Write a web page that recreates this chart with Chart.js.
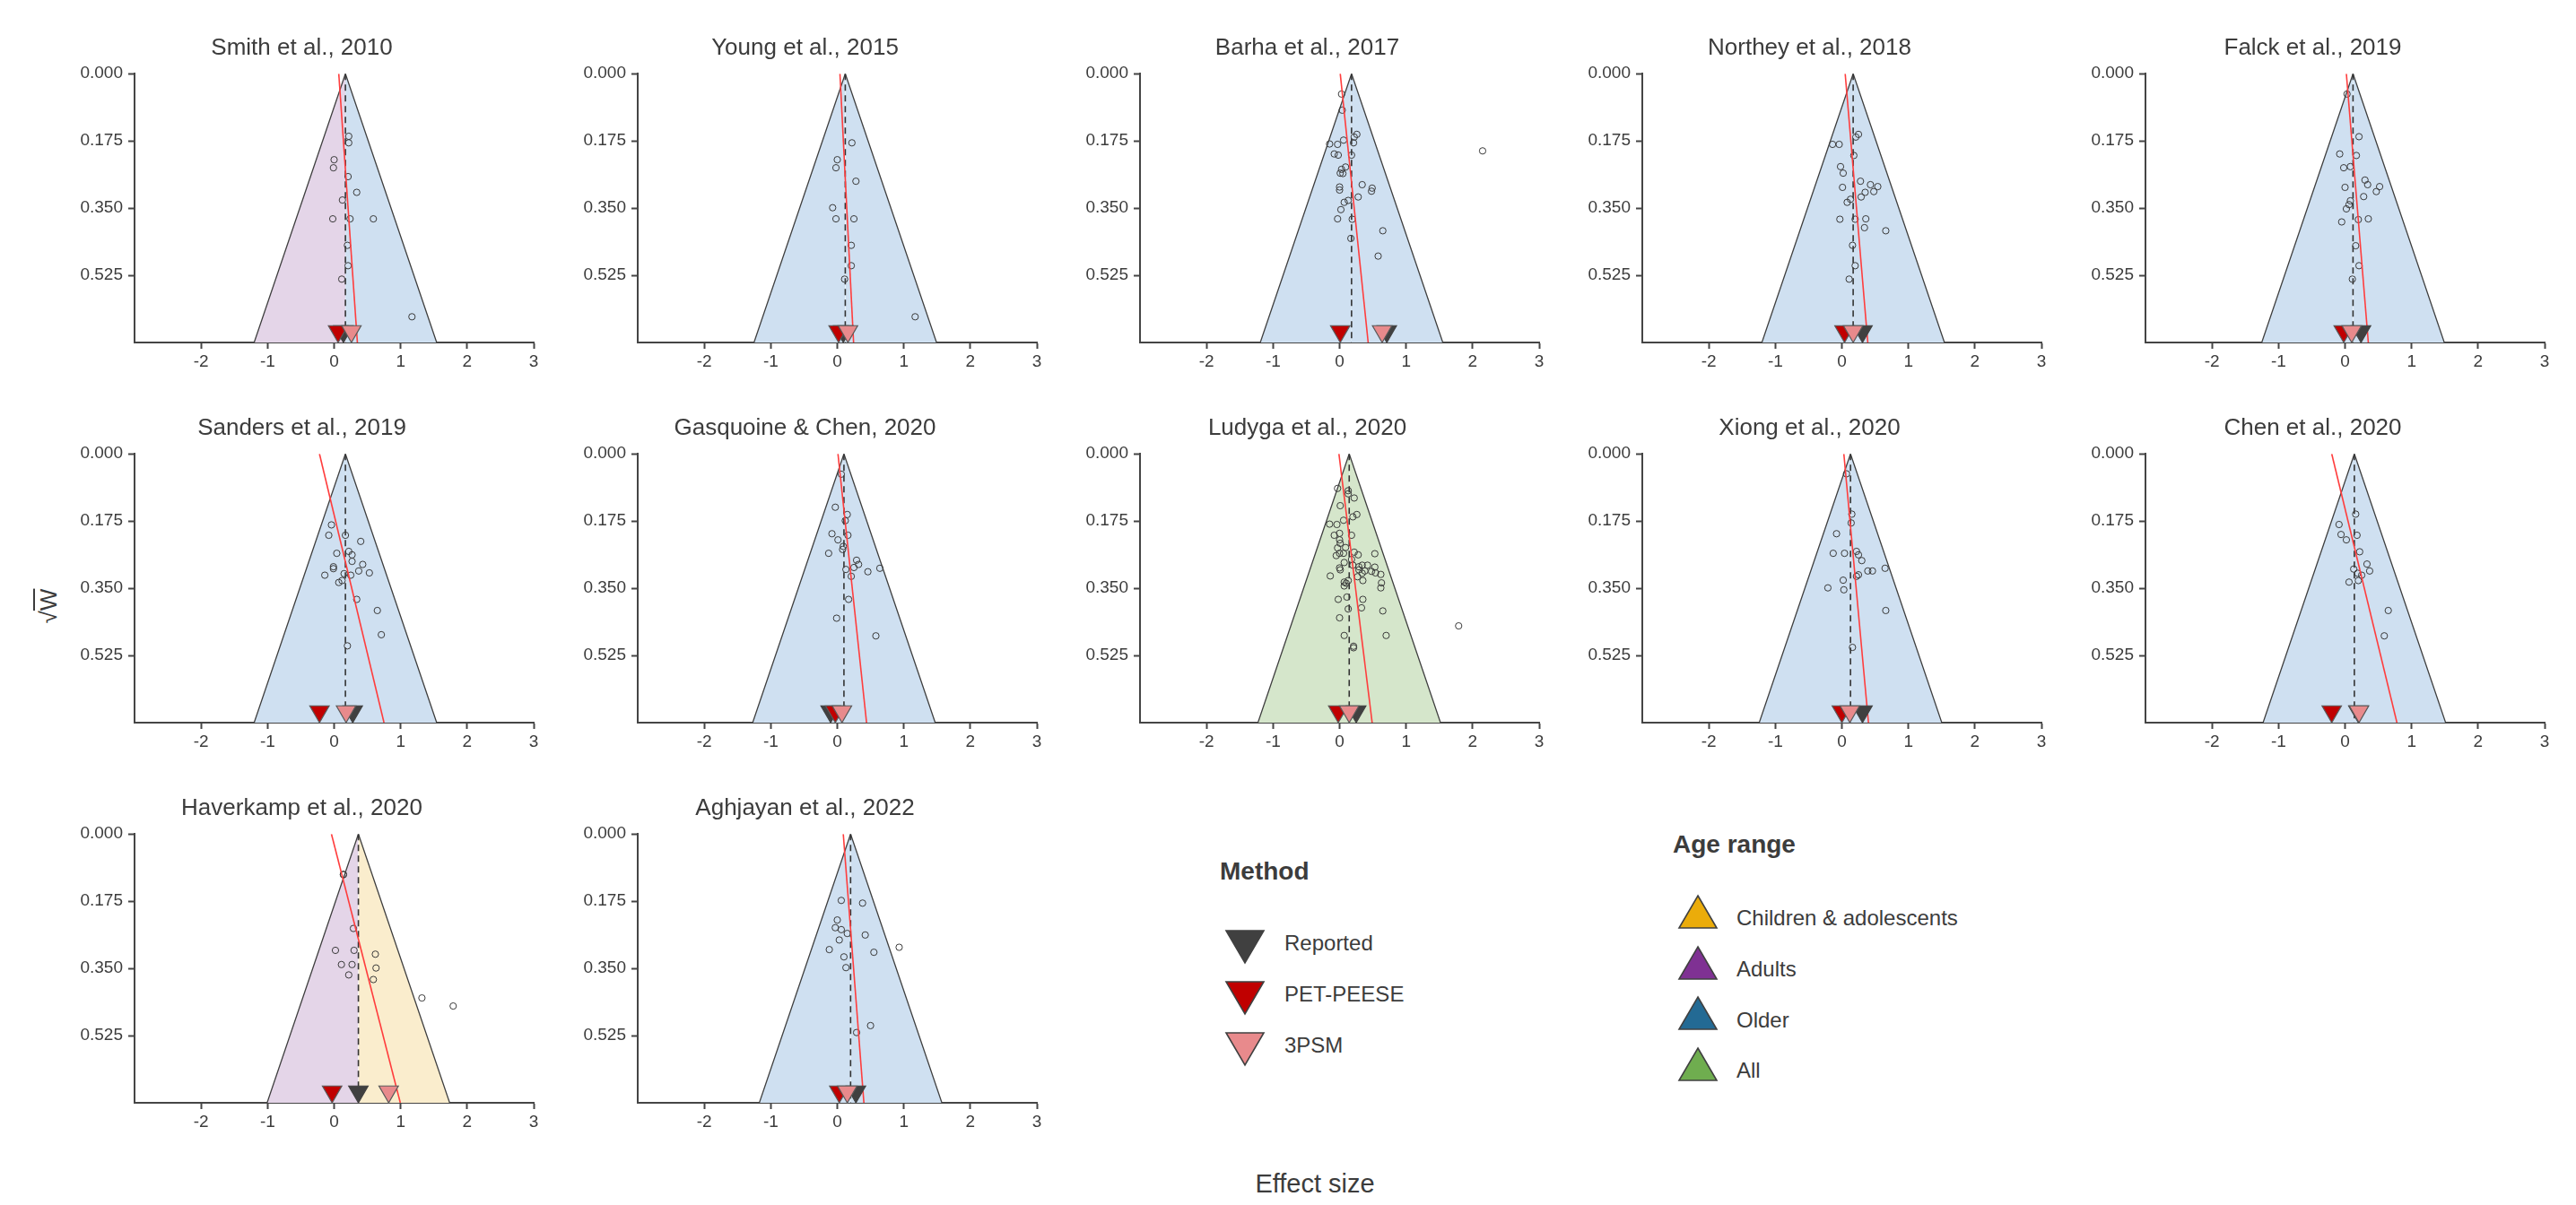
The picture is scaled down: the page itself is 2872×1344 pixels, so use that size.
<!DOCTYPE html>
<html>
<head>
<title>Funnel plots by meta-analysis</title>
<script src="https://cdn.jsdelivr.net/npm/chart.js"></script>
<style>
    body {
        margin: 0;
        width: 2872px;
        height: 1344px;
        position: relative;
        overflow: hidden;
        background: #fff;
        font-family: "Liberation Sans", Arial, sans-serif;
        color: #3c3c3c;
    }
    canvas.panel { position: absolute; }
    .lab { position: absolute; white-space: nowrap; line-height: 1; }
</style>
</head>
<body>

<script>
    // ---- data ----
    const studies = ['Smith et al., 2010', 'Young et al., 2015', 'Barha et al., 2017', 'Northey et al., 2018',
        'Falck et al., 2019', 'Sanders et al., 2019', 'Gasquoine & Chen, 2020', 'Ludyga et al., 2020',
        'Xiong et al., 2020', 'Chen et al., 2020', 'Haverkamp et al., 2020', 'Aghjayan et al., 2022'];

    // pooled estimate (dashed line / funnel apex)
    const pooled = [0.17, 0.12, 0.18, 0.17, 0.12, 0.17, 0.10, 0.145, 0.13, 0.14, 0.365, 0.20];
    // corrected estimates shown as triangles
    const reported = [0.14, 0.09, 0.71, 0.31, 0.24, 0.28, -0.10, 0.25, 0.31, 0.20, 0.365, 0.28];
    const petPeese = [0.06, 0.02, 0.01, 0.04, -0.02, -0.22, -0.03, -0.02, 0.0, -0.20, -0.03, 0.03];
    const psm3 = [0.26, 0.16, 0.64, 0.17, 0.10, 0.18, 0.07, 0.145, 0.12, 0.21, 0.82, 0.15];
    // PET regression line, effect size at se = 0 and at se = 0.7
    const petLineTop = [0.07, 0.04, 0.01, 0.05, 0.02, -0.22, 0.01, -0.01, 0.03, -0.20, -0.04, 0.09];
    const petLineBottom = [0.35, 0.245, 0.43, 0.39, 0.35, 0.75, 0.44, 0.49, 0.40, 0.78, 0.995, 0.40];

    const ageLeft = ['Adults', 'Older', 'Older', 'Older', 'Older', 'Older', 'Older', 'All', 'Older', 'Older', 'Adults', 'Older'];
    const ageRight = ['Older', 'Older', 'Older', 'Older', 'Older', 'Older', 'Older', 'All', 'Older', 'Older', 'Children & adolescents', 'Older'];

    const effects = [
        [0.22, 0.22, 0.0, -0.01, 0.21, 0.34, 0.125, -0.02, 0.24, 0.59, 0.20, 0.21, 0.115, 1.17],
        [0.22, 0.0, -0.02, 0.28, -0.07, -0.02, 0.25, 0.21, 0.21, 0.11, 1.17],
        [0.03, 0.04, 0.26, 0.22, 0.21, 0.06, -0.15, -0.03, -0.08, -0.02, 0.18, 0.09, 0.03, 0.01, 0.05, 0.34, 0.49, 0.48, 0.0, 0.0, 0.28, 0.13, 0.07, 0.02, -0.03, 0.19, 0.65, 0.17, 0.58, 2.15],
        [0.25, 0.21, -0.14, -0.04, 0.18, -0.02, 0.02, 0.28, 0.43, 0.54, 0.48, 0.01, 0.35, 0.29, 0.13, 0.08, -0.03, 0.20, 0.36, 0.34, 0.66, 0.16, 0.20, 0.11],
        [0.03, 0.21, -0.08, 0.17, -0.02, 0.08, 0.30, 0.34, 0.52, 0.47, 0.0, 0.28, 0.08, 0.06, 0.02, 0.35, 0.20, -0.05, 0.16, 0.21, 0.11],
        [-0.04, -0.08, 0.17, 0.40, 0.04, 0.22, 0.27, 0.27, 0.43, -0.01, -0.01, 0.37, 0.53, -0.14, 0.15, 0.25, 0.12, 0.07, 0.34, 0.65, 0.71, 0.20],
        [0.06, -0.03, 0.15, 0.12, -0.08, 0.16, 0.01, 0.09, 0.08, -0.13, 0.29, 0.32, 0.25, 0.13, 0.64, 0.46, 0.21, 0.17, -0.01, 0.58],
        [-0.03, 0.13, 0.13, 0.22, 0.01, 0.26, 0.20, 0.06, -0.15, -0.04, 0.18, -0.08, 0.0, 0.0, 0.01, -0.03, 0.09, 0.22, 0.28, 0.53,
         0.0, 0.06, -0.05, 0.18, 0.07, 0.20, 0.34, 0.42, 0.29, 0.53, 0.0, 0.01, 0.29, 0.38, 0.48, 0.54, 0.62, -0.14, 0.34, 0.27,
         0.35, 0.13, 0.07, 0.10, 0.07, 0.63, 0.62, 0.11, -0.02, 0.35, 0.33, 0.13, 0.65, 0.0, 1.79, 0.07, 0.70, 0.21, 0.21],
        [0.07, 0.15, 0.14, -0.08, -0.13, 0.04, 0.22, 0.25, 0.30, 0.39, 0.46, 0.65, 0.25, 0.22, 0.02, -0.21, 0.03, 0.66, 0.16],
        [0.16, -0.09, -0.06, 0.18, 0.02, 0.22, 0.33, 0.37, 0.13, 0.19, 0.25, 0.20, 0.06, 0.65, 0.59],
        [0.14, 0.14, 0.29, 0.02, 0.30, 0.62, 0.11, 0.27, 0.63, 0.22, 0.59, 1.32, 1.79],
        [0.06, 0.38, 0.0, -0.03, 0.06, 0.15, 0.42, 0.03, 0.93, -0.12, 0.55, 0.10, 0.13, 0.50, 0.29]
    ];
    const stdErrors = [
        [0.163, 0.180, 0.224, 0.245, 0.268, 0.309, 0.329, 0.378, 0.378, 0.378, 0.447, 0.500, 0.535, 0.633],
        [0.180, 0.224, 0.245, 0.280, 0.349, 0.378, 0.378, 0.447, 0.500, 0.535, 0.633],
        [0.053, 0.095, 0.158, 0.165, 0.180, 0.173, 0.183, 0.184, 0.209, 0.212, 0.212, 0.243, 0.249, 0.259, 0.260, 0.289, 0.298, 0.306, 0.295, 0.303, 0.321, 0.330, 0.335, 0.354, 0.378, 0.379, 0.409, 0.429, 0.475, 0.201],
        [0.158, 0.165, 0.184, 0.184, 0.213, 0.242, 0.259, 0.280, 0.289, 0.294, 0.307, 0.296, 0.309, 0.321, 0.327, 0.335, 0.379, 0.379, 0.378, 0.401, 0.409, 0.447, 0.500, 0.535],
        [0.053, 0.164, 0.209, 0.213, 0.245, 0.242, 0.277, 0.289, 0.294, 0.307, 0.296, 0.320, 0.331, 0.341, 0.352, 0.378, 0.380, 0.386, 0.448, 0.500, 0.535],
        [0.185, 0.212, 0.212, 0.228, 0.259, 0.254, 0.263, 0.280, 0.288, 0.294, 0.299, 0.305, 0.310, 0.316, 0.312, 0.316, 0.330, 0.335, 0.379, 0.408, 0.471, 0.500],
        [0.053, 0.139, 0.158, 0.174, 0.208, 0.212, 0.224, 0.241, 0.249, 0.259, 0.277, 0.288, 0.296, 0.301, 0.298, 0.307, 0.319, 0.379, 0.428, 0.474],
        [0.090, 0.096, 0.104, 0.115, 0.135, 0.158, 0.164, 0.173, 0.183, 0.184, 0.212, 0.212, 0.207, 0.224, 0.233, 0.245, 0.244, 0.256, 0.263, 0.260,
         0.259, 0.259, 0.265, 0.275, 0.283, 0.290, 0.290, 0.290, 0.294, 0.295, 0.297, 0.302, 0.302, 0.305, 0.306, 0.310, 0.314, 0.318, 0.311, 0.320,
         0.330, 0.330, 0.334, 0.337, 0.344, 0.336, 0.349, 0.373, 0.379, 0.379, 0.401, 0.404, 0.409, 0.427, 0.448, 0.473, 0.473, 0.501, 0.505],
        [0.052, 0.157, 0.180, 0.208, 0.259, 0.259, 0.254, 0.263, 0.278, 0.305, 0.305, 0.298, 0.315, 0.319, 0.329, 0.349, 0.354, 0.408, 0.504],
        [0.157, 0.184, 0.210, 0.212, 0.224, 0.255, 0.287, 0.305, 0.300, 0.311, 0.316, 0.330, 0.334, 0.408, 0.474],
        [0.105, 0.106, 0.246, 0.303, 0.303, 0.313, 0.340, 0.340, 0.349, 0.367, 0.379, 0.427, 0.448],
        [0.173, 0.180, 0.224, 0.244, 0.249, 0.259, 0.263, 0.276, 0.295, 0.301, 0.308, 0.320, 0.348, 0.499, 0.517]
    ];

    const xTicks = [-2, -1, 0, 1, 2, 3];
    const yTicks = [0, 0.175, 0.35, 0.525];
    const X_MIN = -3, X_MAX = 3, SE_MAX = 0.7;

    const methods = ['Reported', 'PET-PEESE', '3PSM'];
    const ageRanges = ['Children & adolescents', 'Adults', 'Older', 'All'];

    // ---- styles ----
    const FONT = '"Liberation Sans", Arial, sans-serif';
    const TXT = '#3c3c3c';
    const AXIS = '#454545';
    const METHOD_COLOR = { 'Reported': '#404040', 'PET-PEESE': '#c00000', '3PSM': '#e88a8c' };
    const AGE_COLOR = { 'Children & adolescents': '#ebac0a', 'Adults': '#7f3193', 'Older': '#236a94', 'All': '#6fad4f' };
    const FUNNEL_FILL = { 'Children & adolescents': '#faedcd', 'Adults': '#e4d5e8', 'Older': '#cfe0f1', 'All': '#d5e6cb' };

    const COL_X = [150, 711, 1271, 1831, 2392];
    const ROW_Y = [82, 506, 930];
    const PLOT_W = 445, PLOT_H = 300, SIDE = 72, TITLE_H = 44, XAXIS_H = 40;
    const TRI_R = 12.5;
    const triY = SE_MAX - TRI_R * SE_MAX / PLOT_H;   // tip of the triangle sits on the x axis

    function line(data, extra) {
        return Object.assign({ type: 'line', data: data, pointRadius: 0, fill: false, tension: 0 }, extra);
    }

    studies.forEach((name, i) => {
        const col = i % 5, row = Math.floor(i / 5);
        const cv = document.createElement('canvas');
        cv.className = 'panel';
        cv.width = SIDE + PLOT_W + SIDE;
        cv.height = TITLE_H + PLOT_H + XAXIS_H;
        cv.style.left = (COL_X[col] - SIDE) + 'px';
        cv.style.top = (ROW_Y[row] - TITLE_H) + 'px';
        document.body.appendChild(cv);

        const c = pooled[i];
        const half = 1.96 * SE_MAX;
        const datasets = [];

        // funnel halves coloured by age range
        datasets.push(line([{ x: c - half, y: SE_MAX }, { x: c, y: 0 }, { x: c, y: SE_MAX }],
            { backgroundColor: FUNNEL_FILL[ageLeft[i]], borderWidth: 0, fill: { value: SE_MAX }, order: 11 }));
        datasets.push(line([{ x: c, y: SE_MAX }, { x: c, y: 0 }, { x: c + half, y: SE_MAX }],
            { backgroundColor: FUNNEL_FILL[ageRight[i]], borderWidth: 0, fill: { value: SE_MAX }, order: 10 }));
        // funnel outline
        datasets.push(line([{ x: c - half, y: SE_MAX }, { x: c, y: 0 }, { x: c + half, y: SE_MAX }],
            { borderColor: '#404040', borderWidth: 1.3, order: 9 }));
        // pooled estimate
        datasets.push(line([{ x: c, y: 0 }, { x: c, y: SE_MAX }],
            { borderColor: '#333333', borderWidth: 1.6, borderDash: [7, 5], order: 8 }));
        // studies
        datasets.push({
            type: 'scatter',
            data: effects[i].map((v, k) => ({ x: v, y: stdErrors[i][k] })),
            pointRadius: 3.6, pointBorderWidth: 1, pointBorderColor: '#3a3a3a',
            pointBackgroundColor: 'rgba(0,0,0,0)', order: 7
        });
        // PET line
        datasets.push(line([{ x: petLineTop[i], y: 0 }, { x: petLineBottom[i], y: SE_MAX }],
            { borderColor: '#ff3d3d', borderWidth: 1.6, order: 6 }));
        // method estimates
        const est = { 'Reported': reported[i], 'PET-PEESE': petPeese[i], '3PSM': psm3[i] };
        methods.forEach((m, k) => {
            datasets.push({
                type: 'scatter',
                data: [{ x: est[m], y: triY }],
                pointStyle: 'triangle', pointRotation: 180, pointRadius: TRI_R,
                pointBackgroundColor: METHOD_COLOR[m],
                pointBorderColor: m === 'Reported' ? '#404040' : '#595959',
                pointBorderWidth: 1.2, clip: false, order: 3 - k
            });
        });

        new Chart(cv, {
            type: 'scatter',
            data: { datasets: datasets },
            options: {
                responsive: false,
                animation: false,
                devicePixelRatio: 1,
                events: [],
                layout: { padding: { left: 0, right: SIDE, top: 0, bottom: 0 } },
                plugins: {
                    legend: { display: false },
                    tooltip: { enabled: false },
                    title: {
                        display: true, text: name, color: TXT,
                        font: { family: FONT, size: 26, weight: 'normal' },
                        padding: { top: 0, bottom: 13 }
                    }
                },
                scales: {
                    x: {
                        type: 'linear', min: X_MIN, max: X_MAX,
                        afterBuildTicks: s => { s.ticks = xTicks.map(v => ({ value: v })); },
                        afterFit: s => { s.height = XAXIS_H; },
                        ticks: { color: TXT, font: { family: FONT, size: 19 }, padding: 3, callback: v => String(v) },
                        grid: { display: true, drawOnChartArea: false, drawTicks: true, tickLength: 7, tickWidth: 2, tickColor: AXIS },
                        border: { display: true, color: AXIS, width: 2 }
                    },
                    y: {
                        type: 'linear', min: 0, max: SE_MAX, reverse: true,
                        afterBuildTicks: s => { s.ticks = yTicks.map(v => ({ value: v })); },
                        afterFit: s => { s.width = SIDE; },
                        ticks: { color: TXT, font: { family: FONT, size: 19 }, padding: 6, callback: v => v.toFixed(3) },
                        grid: { display: true, drawOnChartArea: false, drawTicks: true, tickLength: 7, tickWidth: 2, tickColor: AXIS },
                        border: { display: true, color: AXIS, width: 2 }
                    }
                }
            }
        });
    });

    // ---- axis titles ----
    function label(html, x, y, size, extra) {
        const d = document.createElement('div');
        d.className = 'lab';
        d.innerHTML = html;
        d.style.left = x + 'px';
        d.style.top = (y - size * 0.49) + 'px';
        d.style.fontSize = size + 'px';
        if (extra) d.style.cssText += extra;
        document.body.appendChild(d);
        return d;
    }
    label('Effect size', 1466, 1320, 29, 'transform:translateX(-50%);');
    const yt = document.createElement('div');
    yt.className = 'lab';
    yt.innerHTML = '&radic;<span style="text-decoration:overline">W</span>';
    yt.style.cssText += 'left:54px;top:676px;font-size:26px;transform:translate(-50%,-50%) rotate(-90deg);';
    document.body.appendChild(yt);

    // ---- legends ----
    function swatch(cx, cy, color, down) {
        const cv = document.createElement('canvas');
        cv.width = 48; cv.height = 42;
        cv.style.cssText = 'position:absolute;left:' + (cx - 24) + 'px;top:' + (cy - 21) + 'px';
        const g = cv.getContext('2d');
        g.beginPath();
        if (down) { g.moveTo(3, 3); g.lineTo(45, 3); g.lineTo(24, 39); }
        else { g.moveTo(24, 3); g.lineTo(45, 39); g.lineTo(3, 39); }
        g.closePath();
        g.fillStyle = color;
        g.fill();
        g.lineWidth = 1.6;
        g.strokeStyle = '#404040';
        g.stroke();
        document.body.appendChild(cv);
    }

    label('Method', 1360, 972, 28, 'font-weight:bold;');
    methods.forEach((m, k) => {
        swatch(1388, 1056 + k * 57, METHOD_COLOR[m], true);
        label(m, 1432, 1052 + k * 57, 24);
    });

    label('Age range', 1865, 942, 28, 'font-weight:bold;');
    ageRanges.forEach((a, k) => {
        swatch(1893, 1017 + k * 56.7, AGE_COLOR[a], false);
        label(a, 1936, 1024 + k * 56.7, 24);
    });
</script>
</body>
</html>
